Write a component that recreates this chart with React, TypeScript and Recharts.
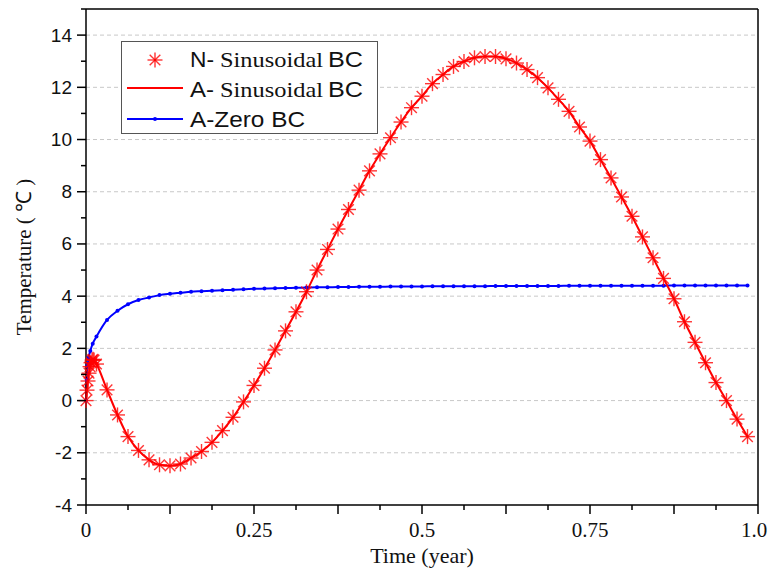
import { LineChart, Line, XAxis, YAxis, ReferenceLine, Legend } from "recharts";

// time grid of the samples (year fraction)
const gridT = [
  0.0156, 0.0313, 0.0469, 0.0625, 0.0781, 0.0938, 0.1094, 0.125, 0.1406, 0.1563,
  0.1719, 0.1875, 0.2031, 0.2188, 0.2344, 0.25, 0.2656, 0.2813, 0.2969, 0.3125,
  0.3281, 0.3438, 0.3594, 0.375, 0.3906, 0.4063, 0.4219, 0.4375, 0.4531, 0.4688,
  0.4844, 0.5, 0.5156, 0.5313, 0.5469, 0.5625, 0.5781, 0.5938, 0.6094, 0.625,
  0.6406, 0.6563, 0.6719, 0.6875, 0.7031, 0.7188, 0.7344, 0.75, 0.7656, 0.7813,
  0.7969, 0.8125, 0.8281, 0.8438, 0.8594, 0.875, 0.8906, 0.9063, 0.9219, 0.9375,
  0.9531, 0.9688, 0.9844,
];

// N- Sinusoidal BC (stars)
const sinEarlyT = [0, 0.0015, 0.003, 0.0045, 0.006, 0.0075, 0.009, 0.0105, 0.012];
const sinEarlyV = [0, 0.4, 0.75, 1.05, 1.3, 1.45, 1.55, 1.58, 1.55];
const sinV = [
  1.4, 0.41, -0.55, -1.38, -1.91, -2.27, -2.46, -2.5, -2.43, -2.2,
  -1.95, -1.6, -1.15, -0.64, -0.05, 0.58, 1.24, 1.94, 2.67, 3.4,
  4.17, 5.0, 5.79, 6.57, 7.32, 8.06, 8.8, 9.45, 10.07, 10.67,
  11.22, 11.66, 12.14, 12.49, 12.8, 12.99, 13.13, 13.18, 13.18, 13.09,
  12.93, 12.68, 12.37, 11.98, 11.54, 11.08, 10.48, 9.94, 9.23, 8.53,
  7.8, 7.06, 6.27, 5.47, 4.68, 3.9, 3.02, 2.23, 1.45, 0.69,
  0.0, -0.71, -1.38,
];

// A- Zero BC (blue)
const zeroEarlyT = [0, 0.001, 0.0025, 0.004, 0.0064, 0.01];
const zeroEarlyV = [0, 0.8, 1.35, 1.65, 1.9, 2.18];
const zeroV = [
  2.45, 3.09, 3.44, 3.69, 3.85, 3.95, 4.04, 4.09, 4.13, 4.17,
  4.19, 4.21, 4.23, 4.25, 4.26, 4.28, 4.29, 4.3, 4.31, 4.32,
  4.33, 4.34, 4.34, 4.35, 4.35, 4.36, 4.36, 4.36, 4.37, 4.37,
  4.37, 4.37, 4.38, 4.38, 4.38, 4.38, 4.38, 4.38, 4.39, 4.39,
  4.39, 4.39, 4.39, 4.39, 4.39, 4.4, 4.4, 4.4, 4.4, 4.4,
  4.4, 4.4, 4.4, 4.4, 4.4, 4.41, 4.41, 4.41, 4.41, 4.41,
  4.41, 4.41, 4.41,
];

const xTicks = [0, 0.0625, 0.125, 0.1875, 0.25, 0.3125, 0.375, 0.4375, 0.5, 0.5625, 0.625, 0.6875, 0.75, 0.8125, 0.875, 0.9375, 1];
const xMajor = [0, 0.125, 0.25, 0.375, 0.5, 0.625, 0.75, 0.875, 1];
const xLabelAt = [0, 0.25, 0.5, 0.75, 1];
const xLabels = ["0", "0.25", "0.5", "0.75", "1.0"];
const yTicks = [-4, -3, -2, -1, 0, 1, 2, 3, 4, 5, 6, 7, 8, 9, 10, 11, 12, 13, 14, 15];
const yMajor = [-4, -2, 0, 2, 4, 6, 8, 10, 12, 14];
const gridY = [-2, 0, 2, 4, 6, 8, 10, 12, 14];

const numericData = [...sinEarlyT, ...gridT].map((t, i) => ({ t, v: [...sinEarlyV, ...sinV][i] }));
const analyticData = numericData;
const zeroData = [...zeroEarlyT, ...gridT].map((t, i) => ({ t, v: [...zeroEarlyV, ...zeroV][i] }));

const RED = "#ff0000";
const BLUE = "#0000ff";
const SANS = "'Liberation Sans', Arial, sans-serif";
const SERIF = "'Liberation Serif', 'Times New Roman', serif";

const has = (arr: number[], v: number) => arr.some((a) => Math.abs(a - v) < 1e-6);

function StarShape({ cx, cy, r = 7.5 }: { cx: number; cy: number; r?: number }) {
  const d = r * 0.7071;
  return (
    <g stroke={RED} strokeWidth={1.4} strokeOpacity={0.8}>
      <line x1={cx - r} y1={cy} x2={cx + r} y2={cy} />
      <line x1={cx} y1={cy - r} x2={cx} y2={cy + r} />
      <line x1={cx - d} y1={cy - d} x2={cx + d} y2={cy + d} />
      <line x1={cx - d} y1={cy + d} x2={cx + d} y2={cy - d} />
    </g>
  );
}

const StarDot = (props: any) => {
  const { cx, cy, index } = props;
  if (cx == null || cy == null) return <g key={index} />;
  return <StarShape key={index} cx={cx} cy={cy} />;
};

const BlueDot = (props: any) => {
  const { cx, cy, index } = props;
  if (cx == null || cy == null) return <g key={index} />;
  return <circle key={index} cx={cx} cy={cy} r={2} fill={BLUE} />;
};

const BottomTick = ({ x, y, payload }: any) => {
  const v = payload.value;
  const len = has(xMajor, v) ? 9 : 5;
  const li = xLabelAt.findIndex((a) => Math.abs(a - v) < 1e-6);
  // the last label sits against the right edge of the picture
  const shift = li === xLabels.length - 1 ? -4 : 0;
  return (
    <g>
      <line x1={x} y1={y} x2={x} y2={y + len} stroke="#000" strokeWidth={1.5} />
      {li >= 0 && (
        <text x={x + shift} y={y + 32} textAnchor="middle" style={{ fontFamily: SERIF }} fontSize={21} fill="#111">
          {xLabels[li]}
        </text>
      )}
    </g>
  );
};

const TopTick = ({ x, y, payload }: any) => {
  const len = has(xMajor, payload.value) ? 9 : 5;
  return <line x1={x} y1={y} x2={x} y2={y + len} stroke="#000" strokeWidth={1.5} />;
};

const LeftTick = ({ x, y, payload }: any) => {
  const v = payload.value;
  const major = has(yMajor, v);
  const len = major ? 9 : 5;
  return (
    <g>
      <line x1={x - len} y1={y} x2={x} y2={y} stroke="#000" strokeWidth={1.5} />
      {major && (
        <text x={x - 14} y={y + 6.5} textAnchor="end" style={{ fontFamily: SANS }} fontSize={19} fill="#111">
          {v}
        </text>
      )}
    </g>
  );
};

const RightTick = ({ x, y, payload }: any) => {
  const len = has(yMajor, payload.value) ? 9 : 5;
  return <line x1={x} y1={y} x2={x - len} y2={y} stroke="#000" strokeWidth={1.5} />;
};

// one legend line: sans prefix, serif middle word, sans suffix (as in the original)
const MixedLabel = ({ y, prefix }: { y: number; prefix: string }) => (
  <g fill="#111" fontSize={22}>
    <text x={69} y={y} style={{ fontFamily: SANS }} textLength={24} lengthAdjust="spacingAndGlyphs">{prefix}</text>
    <text x={99} y={y} style={{ fontFamily: SERIF }} textLength={103} lengthAdjust="spacingAndGlyphs">Sinusoidal</text>
    <text x={207} y={y} style={{ fontFamily: SANS }} textLength={35} lengthAdjust="spacingAndGlyphs">BC</text>
  </g>
);

const LegendBox = () => (
  <svg width={257} height={93} style={{ display: "block" }}>
    <rect x={0.5} y={0.5} width={256} height={92} fill="#fff" stroke="#555" strokeWidth={1} />
    <StarShape cx={34} cy={19} />
    <MixedLabel y={26} prefix="N-" />
    <line x1={6} x2={62} y1={47} y2={47} stroke={RED} strokeWidth={2} />
    <MixedLabel y={56} prefix="A-" />
    <line x1={6} x2={62} y1={78} y2={78} stroke={BLUE} strokeWidth={2} />
    <circle cx={34} cy={78} r={2} fill={BLUE} />
    <text x={69} y={86} fontSize={22} fill="#111" style={{ fontFamily: SANS }} textLength={115} lengthAdjust="spacingAndGlyphs">
      A-Zero BC
    </text>
  </svg>
);

export default function App() {
  return (
    <div style={{ position: "absolute", left: 0, top: 0, background: "#fff" }}>
      <LineChart width={769} height={574} margin={{ top: 0, right: 0, bottom: 0, left: 0 }}>
        <XAxis
          dataKey="t"
          type="number"
          domain={[0, 1]}
          ticks={xTicks}
          height={69}
          axisLine={{ stroke: "#000", strokeWidth: 1.5 }}
          tickLine={false}
          tickSize={0}
          tickMargin={0}
          interval={0}
          tick={<BottomTick />}
          label={{ value: "Time (year)", position: "insideBottom", offset: 11, fontFamily: SERIF, fontSize: 22, fill: "#111" }}
        />
        <XAxis
          xAxisId="top"
          orientation="top"
          type="number"
          domain={[0, 1]}
          ticks={xTicks}
          height={9}
          axisLine={{ stroke: "#000", strokeWidth: 1.5 }}
          tickLine={false}
          tickSize={0}
          tickMargin={0}
          interval={0}
          tick={<TopTick />}
        />
        <YAxis
          type="number"
          domain={[-4, 15]}
          ticks={yTicks}
          width={86}
          axisLine={{ stroke: "#000", strokeWidth: 1.5 }}
          tickLine={false}
          tickSize={0}
          tickMargin={0}
          interval={0}
          tick={<LeftTick />}
          label={{
            value: "Temperature ( ℃ )",
            angle: -90,
            position: "insideLeft",
            offset: 24,
            style: { textAnchor: "middle" },
            fontFamily: SERIF,
            fontSize: 21,
            fill: "#111",
          }}
        />
        <YAxis
          yAxisId="right"
          orientation="right"
          type="number"
          domain={[-4, 15]}
          ticks={yTicks}
          width={11}
          axisLine={{ stroke: "#000", strokeWidth: 1.5 }}
          tickLine={false}
          tickSize={0}
          tickMargin={0}
          interval={0}
          tick={<RightTick />}
        />
        {gridY.map((v) => (
          <ReferenceLine key={v} y={v} stroke="#c8c8c8" strokeDasharray="4 3" strokeWidth={1} />
        ))}
        <Legend
          layout="vertical"
          align="center"
          verticalAlign="middle"
          content={<LegendBox />}
          wrapperStyle={{ left: 121, top: 41, width: 257, height: 93 }}
        />
        <Line
          data={zeroData}
          dataKey="v"
          type="monotone"
          stroke={BLUE}
          strokeWidth={2}
          dot={<BlueDot />}
          activeDot={false}
          isAnimationActive={false}
        />
        <Line
          data={analyticData}
          dataKey="v"
          type="monotone"
          stroke={RED}
          strokeWidth={2}
          dot={false}
          activeDot={false}
          isAnimationActive={false}
        />
        <Line
          data={numericData}
          dataKey="v"
          type="monotone"
          stroke="none"
          dot={<StarDot />}
          activeDot={false}
          isAnimationActive={false}
        />
      </LineChart>
    </div>
  );
}
